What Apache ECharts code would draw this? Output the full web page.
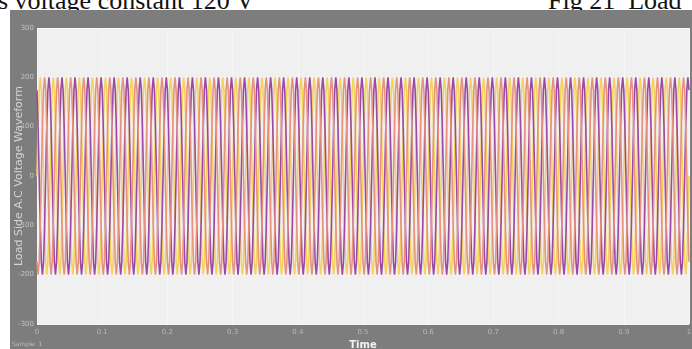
<!DOCTYPE html>
<html>
<head>
<meta charset="utf-8">
<script src="https://cdn.jsdelivr.net/npm/echarts@6/dist/echarts.min.js"></script>
<style>
  html, body { margin: 0; padding: 0; background: #ffffff; }
  #wrap { position: relative; width: 692px; height: 349px; overflow: hidden; }
  .cap { position: absolute; font-family: "Liberation Serif", serif; font-size: 26px; color: #111; white-space: pre; line-height: 1; }
  #frame { position: absolute; left: 10px; top: 10px; width: 682px; height: 339px; background: #7d7d7d; }
  #chart { position: absolute; left: 0; top: 0; width: 692px; height: 349px; }
</style>
</head>
<body>
<div id="wrap">
  <div class="cap" style="left:-2px; top:-12px;">s voltage constant 120 V</div>
  <div class="cap" style="left:548px; top:-12px;">Fig 21  Load</div>
  <div id="frame"></div>
  <div id="chart"></div>
</div>
<script>
// One period of the waveform, read as 12 samples (fraction of peak)
const cycleShape = [0, 0.5, 0.87, 1, 0.87, 0.5, 0, -0.5, -0.87, -1, -0.87, -0.5];
const peakVoltage = 200;          // peak of each phase (axis units)
const cycles = 50;                // number of cycles over the window
const timeSpan = 1;               // seconds shown
const phaseOffsets = [0, 4, 8];   // sample offsets for phases A, B, C (120 deg apart)
const phaseNames = ['Va', 'Vb', 'Vc'];
const phaseColors = ['#f3d35c', '#9a4aa6', '#e8927e'];
const yTicks = [-300, -200, -100, 0, 100, 200, 300];
const xTicks = [0, 0.1, 0.2, 0.3, 0.4, 0.5, 0.6, 0.7, 0.8, 0.9, 1];
const yTitle = 'Load Side A.C Voltage Waveform';

// Build series by repeating the read cycle over the window
const n = cycleShape.length;
const total = cycles * n;
const series = phaseOffsets.map((off, k) => {
  const data = [];
  for (let i = 0; i <= total; i++) {
    data.push([i * timeSpan / total, peakVoltage * cycleShape[(i + off) % n]]);
  }
  return {
    name: phaseNames[k], type: 'line', data: data, showSymbol: false,
    lineStyle: { width: 1.6, color: phaseColors[k] }, itemStyle: { color: phaseColors[k] },
    animation: false
  };
});

const chart = echarts.init(document.getElementById('chart'), null, { renderer: 'canvas' });
chart.setOption({
  backgroundColor: 'transparent',
  animation: false,
  grid: { left: 37, top: 28, width: 652, height: 296, show: true, backgroundColor: '#f0f0f0', borderWidth: 0,
    containLabel: false, outerBoundsMode: 'none' },
  xAxis: {
    type: 'value', min: xTicks[0], max: xTicks[xTicks.length - 1], interval: 0.1,
    name: 'Time', nameLocation: 'middle', nameGap: 13,
    nameTextStyle: { color: '#f2f2f2', fontSize: 10, fontWeight: 'bold', fontFamily: 'DejaVu Sans' },
    axisLine: { show: false },
    axisTick: { show: true, inside: true, length: 5, lineStyle: { color: '#ffffff' } },
    axisLabel: { color: '#b9b9b9', fontSize: 7, margin: 5, fontFamily: 'DejaVu Sans',
      formatter: v => (v === 0 ? '0' : String(+v.toFixed(1))) },
    splitLine: { show: true, lineStyle: { color: '#f7f7f7', width: 1 } }
  },
  yAxis: {
    type: 'value', min: yTicks[0], max: yTicks[yTicks.length - 1], interval: 100,
    axisLine: { show: false },
    axisTick: { show: false },
    axisLabel: { color: '#c4c4c4', fontSize: 7, margin: 3, fontFamily: 'DejaVu Sans' },
    splitLine: { show: true, lineStyle: { color: '#f7f7f7', width: 1 } }
  },
  graphic: [
    { type: 'text', x: 19, y: 176, rotation: Math.PI / 2,
      style: { text: yTitle, fill: '#d4d4d4', fontSize: 11, fontFamily: 'DejaVu Sans', align: 'center', verticalAlign: 'middle' } },
    { type: 'text', left: 12, top: 341, style: { text: 'Sample: 1', fill: '#bdbdbd', fontSize: 6, fontFamily: 'DejaVu Sans' } }
  ],
  series: series
});
</script>
</body>
</html>
